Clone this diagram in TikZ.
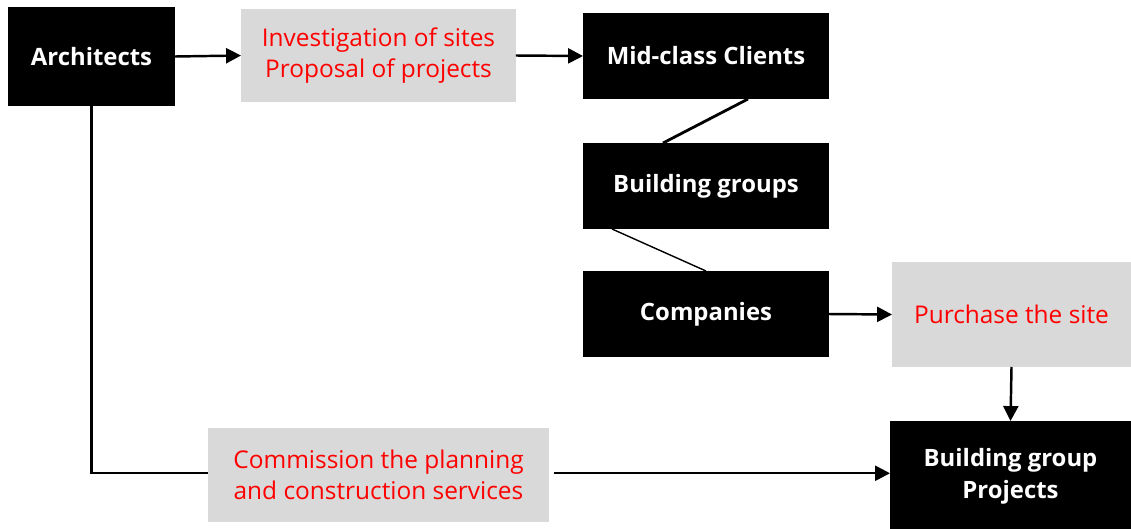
\documentclass[tikz,border=0pt]{standalone}
\usepackage{fontspec}
\setmainfont{Open Sans}
\usetikzlibrary{arrows.meta,positioning}
\definecolor{boxgray}{RGB}{217,217,217}
\definecolor{txtred}{RGB}{255,0,0}

\begin{document}
\begin{tikzpicture}[x=0.02cm,y=-0.02cm,
  blackbox/.style={fill=black,text=white,font=\fontsize{13.6}{18}\selectfont\bfseries,align=center,inner sep=0pt,outer sep=0pt},
  graybox/.style={fill=boxgray,text=txtred,font=\fontsize{13.9}{18}\selectfont,align=center,inner sep=0pt,outer sep=0pt},
  arr/.style={line width=1.4pt,-{Triangle[length=8.5pt,width=8.5pt]}}]
\useasboundingbox (0,0) rectangle (1131,528);
\node[blackbox,minimum width=3.34cm,minimum height=1.98cm] (arch) at (91.5,56.5) {Architects};
\node[graybox,minimum width=5.5cm,minimum height=1.86cm] (invest) at (378.5,55.5) {Investigation of sites\\Proposal of projects};
\node[blackbox,minimum width=4.92cm,minimum height=1.72cm] (mid) at (706,56) {Mid-class Clients};
\node[blackbox,minimum width=4.92cm,minimum height=1.72cm] (bgrp) at (706,186) {Building groups};
\node[blackbox,minimum width=4.92cm,minimum height=1.72cm] (comp) at (706,314) {Companies};
\node[graybox,minimum width=4.78cm,minimum height=2.1cm] (purch) at (1011.5,314.5) {Purchase the site};
\node[blackbox,minimum width=4.82cm,minimum height=2.2cm] (proj) at (1010.5,476) {Building group\\Projects};
\node[graybox,minimum width=6.82cm,minimum height=1.88cm] (comm) at (378.5,475) {Commission the planning\\and construction services};
% connectors
\draw[arr] (arch.east) -- (invest.west);
\draw[arr] (invest.east) -- (mid.west);
\draw[line width=1.6pt] ([xshift=0.84cm]mid.south) -- ([xshift=-0.86cm]bgrp.north);
\draw[line width=0.8pt] ([xshift=-1.88cm]bgrp.south) -- (comp.north);
\draw[arr] (comp.east) -- (purch.west);
\draw[arr] (purch.south) -- (proj.north);
\draw[line width=1.4pt] (arch.south) |- ([yshift=1pt]comm.west);
\draw[arr] ([xshift=3pt,yshift=1pt]comm.east) -- ([yshift=1pt]comm.east -| proj.west);
\end{tikzpicture}
\end{document}
